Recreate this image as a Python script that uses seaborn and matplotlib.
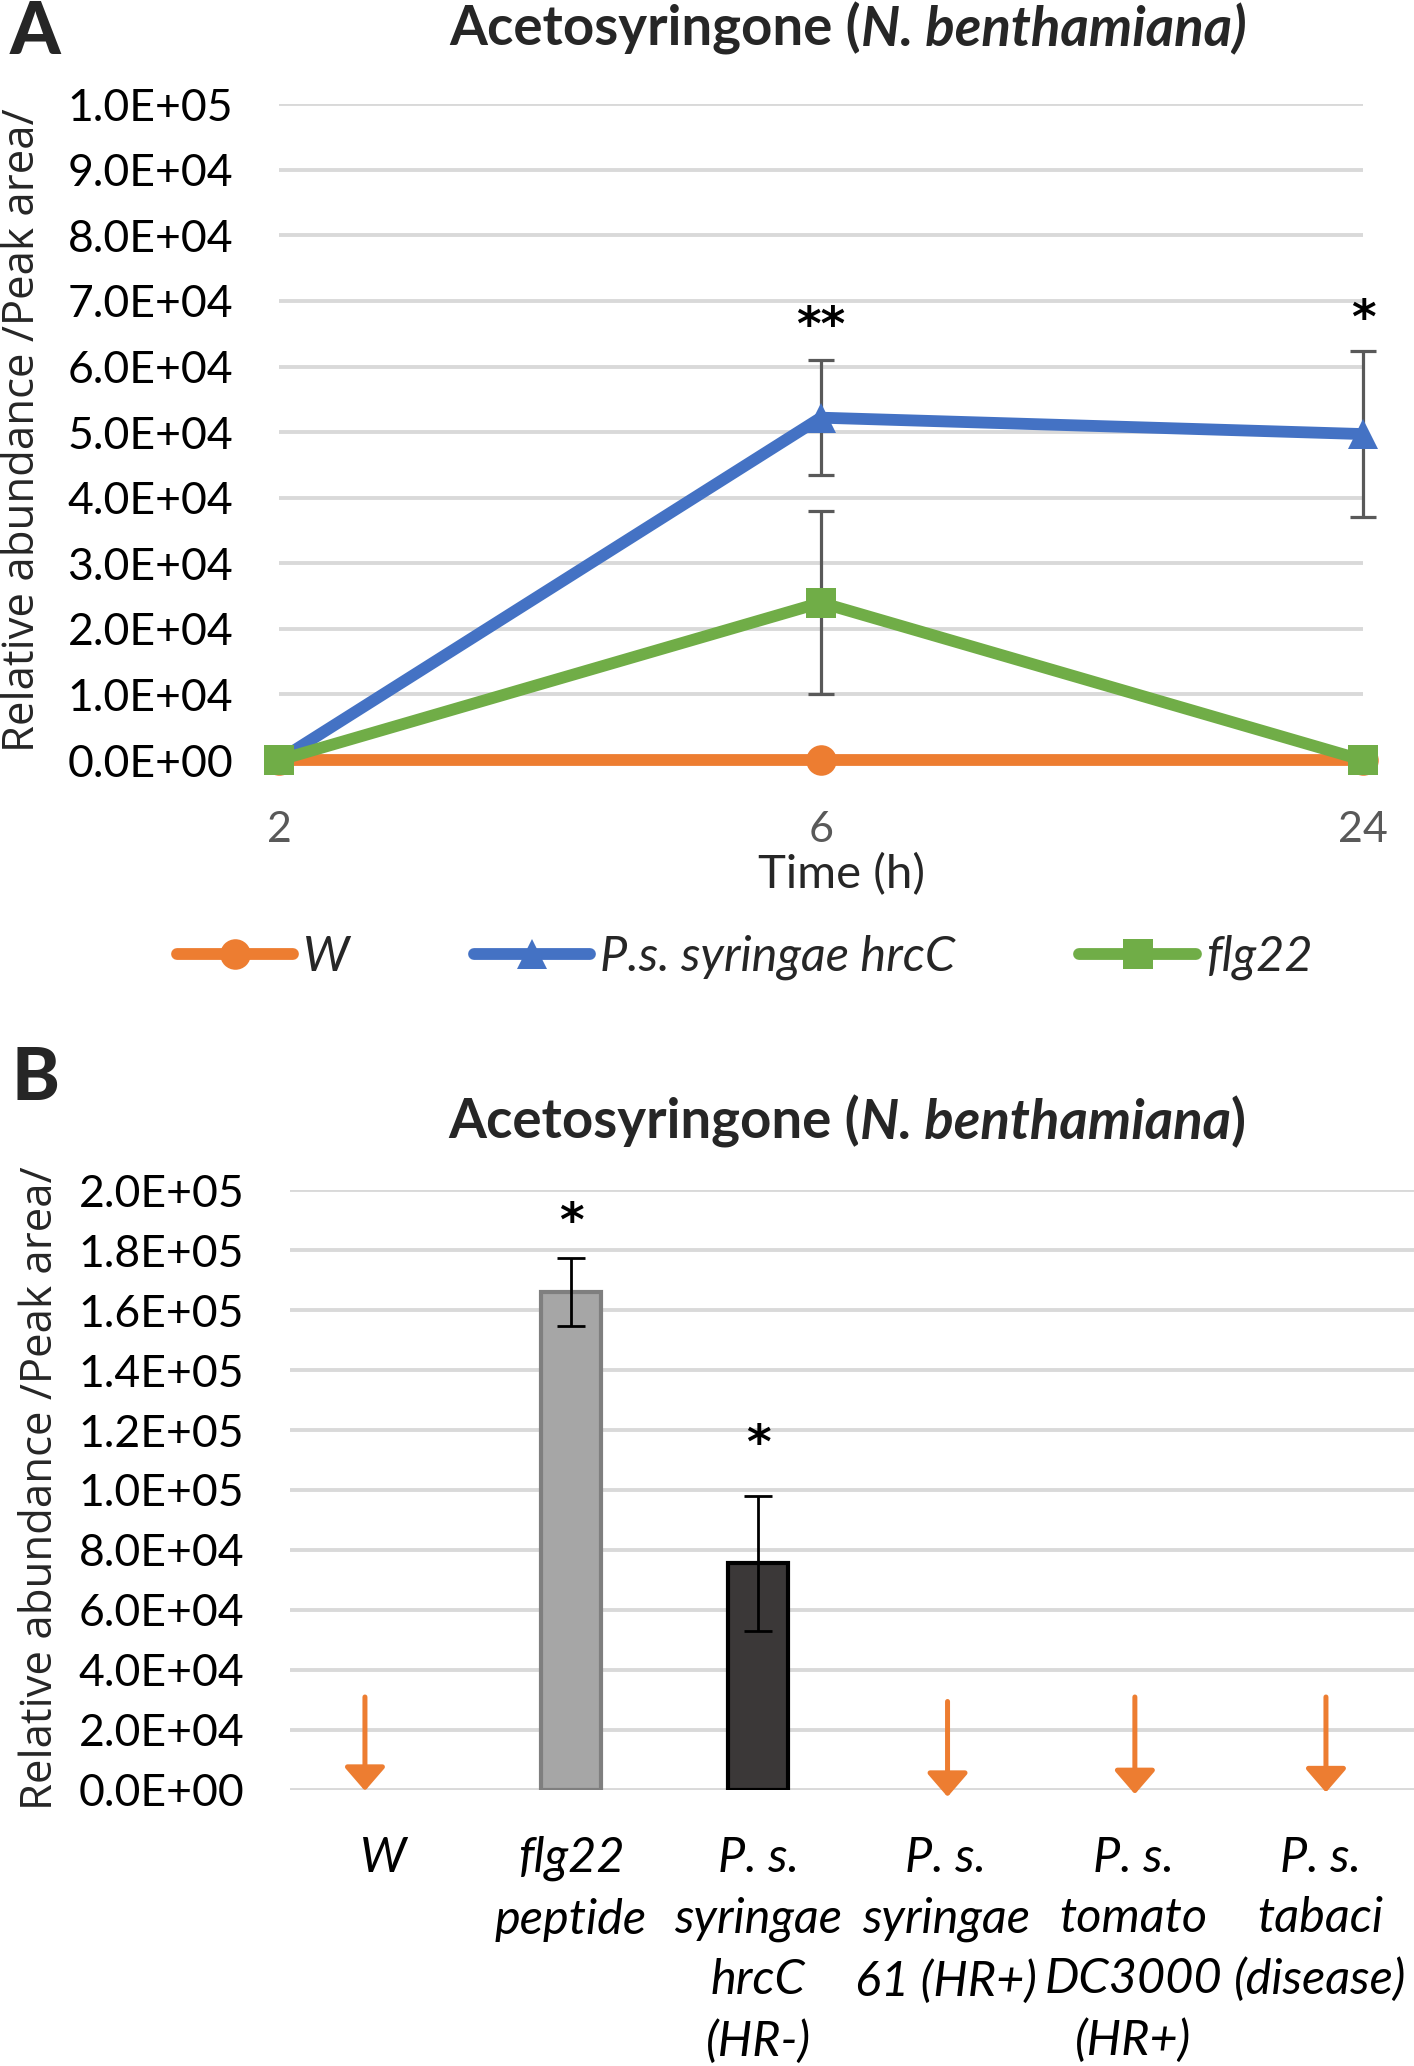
import matplotlib
matplotlib.use("Agg")
import matplotlib.pyplot as plt
from matplotlib.lines import Line2D
import seaborn as sns
import pandas as pd

sns.set_style("white")
plt.rcParams['font.family'] = ['Lato', 'DejaVu Sans']

# ---- Panel A: time course ----
time_labels = ['2', '6', '24']
w_vals = [0, 0, 0]
hrcc_vals = [0, 52200, 49700]
hrcc_err = [0, 8800, 12600]
flg22_vals = [0, 24000, 0]
flg22_err = [0, 13900, 0]
a_stars = ['', '**', '*']
a_star_y = [0, 66000, 67000]

# ---- Panel B: bars ----
groups = ['W', 'flg22\npeptide', 'P. s.\nsyringae\nhrcC\n(HR-)', 'P. s.\nsyringae\n61 (HR+)',
          'P. s.\ntomato\nDC3000\n(HR+)', 'P. s.\ntabaci\n(disease)']
bar_vals = [0, 166000, 75500, 0, 0, 0]
bar_err = [0, 11300, 22400, 0, 0, 0]
b_stars = ['', '*', '*', '', '', '']
b_star_y = [0, 189000, 115000, 0, 0, 0]
# "not detected" arrows
arrow_x = [-0.1, 3.01, 4.01, 5.03]
arrow_top = [31000, 29500, 31000, 31000]
arrow_tip = [-300, -2300, -1400, -800]

ORANGE = '#ED7D31'
BLUE = '#4472C4'
GREEN = '#70AD47'
GRID = '#D9D9D9'
ERR = '#595959'
STAR_FONT = ['DejaVu Sans']

fig = plt.figure(figsize=(14.14, 20.66), dpi=100)

# ================= Panel A =================
axA = fig.add_axes([0.1973, 0.6321, 0.7666, 0.3175])
xpos = list(range(len(time_labels)))
series = [
    ('W', w_vals, None, ORANGE, 'o', 22),
    ('P.s. syringae hrcC', hrcc_vals, hrcc_err, BLUE, '^', 22),
    ('flg22', flg22_vals, flg22_err, GREEN, 's', 21),
]
handles = []
for name, vals, err, col, mk, ms in series:
    if err is not None:
        ex = [x for x, e in zip(xpos, err) if e > 0]
        ey = [v for v, e in zip(vals, err) if e > 0]
        ee = [e for e in err if e > 0]
        eb = axA.errorbar(ex, ey, yerr=ee, fmt='none', ecolor=ERR, elinewidth=2.3,
                          capsize=9.5, capthick=2.3, zorder=2)
        for art in eb.get_children():
            art.set_clip_on(False)
    sns.lineplot(x=xpos, y=vals, ax=axA, color=col, marker=mk, markersize=ms,
                 linewidth=8.5, markeredgewidth=0, clip_on=False, zorder=3,
                 legend=False)
    handles.append(Line2D([], [], color=col, marker=mk, markersize=ms,
                          linewidth=8.5, markeredgewidth=0, label=name))

for x, s, y in zip(xpos, a_stars, a_star_y):
    if s:
        axA.text(x, y, s, ha='center', va='center', fontsize=34,
                 fontweight='bold', color='black', family=STAR_FONT)

axA.set_xlim(0, 2)
axA.set_ylim(0, 100000)
axA.set_yticks(range(0, 100001, 10000))
axA.set_yticklabels([f"{v:.1E}" for v in range(0, 100001, 10000)])
axA.set_xticks(xpos)
axA.set_xticklabels(time_labels)
axA.tick_params(axis='y', length=0, pad=33, labelsize=32, labelcolor='black')
axA.tick_params(axis='x', length=0, pad=37, labelsize=31, labelcolor=ERR)
axA.grid(axis='y', color=GRID, linewidth=2.8, zorder=0)
axA.set_axisbelow(True)
sns.despine(ax=axA, left=True, bottom=True)
axA.set_xlabel('')
axA.set_ylabel('')

fig.text(0.595, 0.5768, 'Time (h)', ha='center', va='center', fontsize=34)
fig.text(0.016, 0.7919, 'Relative abundance /Peak area/', rotation=90,
         ha='center', va='center', fontsize=31.5, family=['Open Sans', 'DejaVu Sans'])

fig.legend(handles=handles, loc='center left', bbox_to_anchor=(0.125, 0.5365),
           ncol=3, frameon=False, borderpad=0, borderaxespad=0,
           handlelength=2.4, handletextpad=0.2, columnspacing=2.55,
           prop={'style': 'italic', 'size': 35})

# ================= Panel B =================
axB = fig.add_axes([0.2051, 0.1336, 0.7949, 0.2904])
dfB = pd.DataFrame({'group': groups, 'value': bar_vals})
face = ['none', '#A6A6A6', '#3B3838', 'none', 'none', 'none']
edge = ['none', '#7F7F7F', '#000000', 'none', 'none', 'none']
sns.barplot(data=dfB, x='group', y='value', ax=axB, width=0.32, color='#A6A6A6',
            zorder=3)
for patch, fc, ec in zip(axB.patches, face, edge):
    patch.set_facecolor(fc)
    patch.set_edgecolor(ec)
    patch.set_linewidth(3)
bx = [i for i, e in enumerate(bar_err) if e > 0]
axB.errorbar(bx, [bar_vals[i] for i in bx], yerr=[bar_err[i] for i in bx],
             fmt='none', ecolor='black', elinewidth=2, capsize=10, capthick=2, zorder=4)
for i, (s, y) in enumerate(zip(b_stars, b_star_y)):
    if s:
        axB.text(i, y, s, ha='center', va='center', fontsize=34,
                 fontweight='bold', color='black', family=STAR_FONT)
for x, top, tip in zip(arrow_x, arrow_top, arrow_tip):
    axB.annotate('', xy=(x, tip), xytext=(x, top), annotation_clip=False,
                 arrowprops=dict(arrowstyle='-|>,head_length=0.52,head_width=0.45',
                                 color=ORANGE, lw=3.6, shrinkA=0, shrinkB=0,
                                 mutation_scale=28), zorder=4)

axB.set_xlim(-0.5, 5.5)
axB.set_ylim(0, 200000)
axB.set_yticks(range(0, 200001, 20000))
axB.set_yticklabels([f"{v:.1E}" for v in range(0, 200001, 20000)])
axB.tick_params(axis='y', length=0, pad=33, labelsize=32, labelcolor='black')
axB.tick_params(axis='x', length=0, pad=33, labelsize=35, labelcolor='black')
for lab in axB.get_xticklabels():
    lab.set_fontstyle('italic')
    lab.set_linespacing(1.46)
axB.grid(axis='y', color=GRID, linewidth=2.8, zorder=0)
axB.set_axisbelow(True)
sns.despine(ax=axB, left=True, bottom=True)
axB.set_xlabel('')
axB.set_ylabel('')

fig.text(0.029, 0.2798, 'Relative abundance /Peak area/', rotation=90,
         ha='center', va='center', fontsize=31.5, family=['Open Sans', 'DejaVu Sans'])


# titles with bold + bold-italic pieces chained together
def chained_title(x, y, pieces, size=39.3):
    prev = fig.text(x, y, pieces[0][0], ha='left', va='bottom', fontsize=size,
                    fontweight='bold', fontstyle=pieces[0][1])
    for txt, style in pieces[1:]:
        prev = axA.annotate(txt, xy=(1, 0), xycoords=prev, ha='left', va='bottom',
                            fontsize=size, fontweight='bold', fontstyle=style,
                            annotation_clip=False)


chained_title(0.3175, 0.9732, [('Acetosyringone (', 'normal'),
                               ('N. benthamiana)', 'italic')])
chained_title(0.3168, 0.4442, [('Acetosyringone (', 'normal'),
                               ('N. benthamiana', 'italic'), (')', 'normal')])

fig.text(0.007, 1.0, 'A', ha='left', va='top', fontsize=52, fontweight='black')
fig.text(0.008, 0.4935, 'B', ha='left', va='top', fontsize=52, fontweight='black')

fig.savefig('out.png', dpi=100)
